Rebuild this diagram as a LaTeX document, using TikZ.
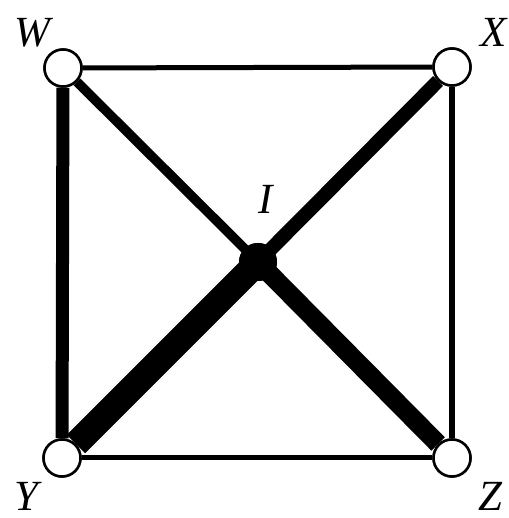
\documentclass[tikz,border=0pt]{standalone}
\usepackage{fontspec}
\setmainfont{Liberation Serif}
\begin{document}
\begin{tikzpicture}[x=1pt,y=1pt,
  vert/.style={circle,draw,line width=2.5pt,fill=white,minimum size=37pt,inner sep=0pt},
  hub/.style={circle,fill=black,minimum size=38pt,inner sep=0pt},
  lab/.style={font=\fontsize{43}{43}\selectfont\itshape,inner sep=0pt,anchor=base},
  edge/.style={line cap=butt}]
\useasboundingbox (0,0) rectangle (508,518);
\node[vert] (W) at (63,450) {};
\node[vert] (X) at (452,451) {};
\node[vert] (Y) at (62,60) {};
\node[vert] (Z) at (452,60) {};
\node[hub] (I) at (258,256) {};
\draw[edge,line width=5pt] (W) -- (X);
\draw[edge,line width=6pt] (X) -- (Z);
\draw[edge,line width=5pt] (Y) -- (Z);
\draw[edge,line width=13pt] (W) -- (Y);
\draw[edge,line width=9.5pt] (W) -- (I.center);
\draw[edge,line width=14pt] (X) -- (I.center);
\draw[edge,line width=26pt] (Y) -- (I.center);
\draw[edge,line width=19pt] (Z) -- (I.center);
\node[vert] at (W) {};
\node[vert] at (X) {};
\node[vert] at (Y) {};
\node[vert] at (Z) {};
\node[hub] at (I) {};
\node[lab] (lW) at (32,471) {W};
\node[lab] (lX) at (494,471) {X};
\node[lab] (lY) at (26,8) {Y};
\node[lab] (lZ) at (490,8) {Z};
\node[lab] (lI) at (266,304) {I};
\end{tikzpicture}
\end{document}
